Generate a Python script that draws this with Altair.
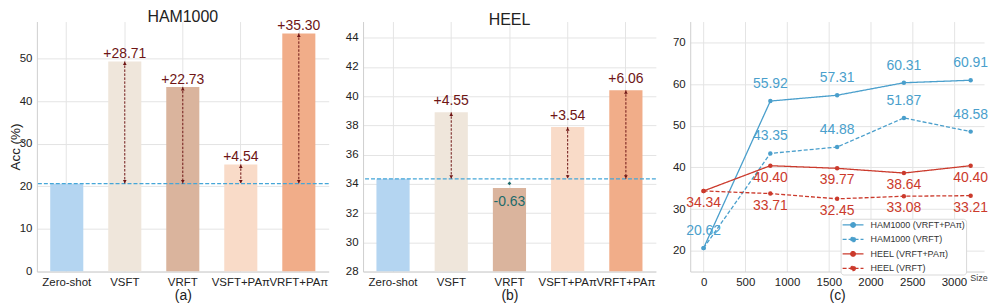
import altair as alt
import pandas as pd

# ---------------- data ----------------
methods = ["Zero-shot", "VSFT", "VRFT", "VSFT+PAπ", "VRFT+PAπ"]
bar_colors = ["#b4d5f1", "#efe6db", "#dab49d", "#f9dbc8", "#f1ad89"]
ham_acc = [20.62, 49.33, 43.35, 25.16, 55.92]
heel_acc = [34.34, 38.89, 33.71, 37.88, 40.40]

sizes = [0, 800, 1600, 2400, 3200]
ham_pa = [20.62, 55.92, 57.31, 60.31, 60.91]
ham_vrft = [20.62, 43.35, 44.88, 51.87, 48.58]
heel_pa = [34.34, 40.40, 39.77, 38.64, 40.40]
heel_vrft = [34.34, 33.71, 32.45, 33.08, 33.21]
series_names = ["HAM1000 (VRFT+PAπ)", "HAM1000 (VRFT)", "HEEL (VRFT+PAπ)", "HEEL (VRFT)"]

DARK_RED = "#6e1515"
TEAL = "#1d6b6b"
BASE_BLUE = "#45a6d8"
BLUE = "#4a9fcc"
RED = "#cb3a2c"
H = 251


def bar_panel(acc, title, ydomain, yticks, ytitle, xtitle, width, label_dy):
    base = acc[0]
    df = pd.DataFrame({"method": methods, "acc": acc})
    df["base"] = base
    df["gain"] = (df["acc"] - base).round(2)
    df["label"] = df["gain"].map(lambda g: f"{g:+.2f}")
    df["mid"] = (df["acc"] + df["base"]) / 2
    df["idx"] = range(len(df))

    xs = alt.Scale(domain=methods, paddingInner=0.43, paddingOuter=0.23)
    xax = alt.Axis(title=xtitle, labelAngle=0, bandPosition=0.5, labelOverlap=False,
                   labelPadding=5, titlePadding=1)
    ys = alt.Scale(domain=ydomain, nice=False, zero=False)
    yax = alt.Axis(values=yticks, title=ytitle, titlePadding=-3, titleFontSize=13.5)

    def X():
        return alt.X("method:N", sort=methods, scale=xs, axis=xax)

    def Y(f):
        return alt.Y(f"{f}:Q", scale=ys, axis=yax)

    bars = alt.Chart(df).mark_bar(clip=True).encode(
        x=X(), y=Y("acc"), y2=alt.datum(ydomain[0]),
        color=alt.Color("method:N", scale=alt.Scale(domain=methods, range=bar_colors), legend=None),
    )
    base_rule = alt.Chart(df[df["idx"] == 0]).mark_rule(
        color=BASE_BLUE, strokeDash=[4, 2], strokeWidth=1.2
    ).encode(y=Y("base"))

    pos = df[(df["idx"] > 0) & (df["gain"] > 0)]
    neg = df[(df["idx"] > 0) & (df["gain"] < 0)]

    arrows = alt.Chart(pos).mark_rule(color=DARK_RED, strokeDash=[2.5, 1.5], strokeWidth=1).encode(
        x=X(), y=Y("acc"), y2="base:Q"
    )
    head_up = alt.Chart(pos).mark_point(shape="triangle-up", filled=True, size=14,
                                         color=DARK_RED, opacity=1, yOffset=2).encode(x=X(), y=Y("acc"))
    head_dn = alt.Chart(pos).mark_point(shape="triangle-down", filled=True, size=14,
                                         color=DARK_RED, opacity=1, yOffset=-2).encode(x=X(), y=Y("base"))
    labels = alt.Chart(pos).mark_text(baseline="alphabetic", dy=label_dy, fontSize=14,
                                      color=DARK_RED).encode(x=X(), y=Y("acc"), text="label:N")
    layers = [bars, base_rule, arrows, head_up, head_dn, labels]
    if len(neg):
        nmark = alt.Chart(neg).mark_point(shape="diamond", filled=True, size=14, color=TEAL,
                                          opacity=1).encode(x=X(), y=Y("mid"))
        nlab = alt.Chart(neg).mark_text(baseline="middle", dy=14, fontSize=14, color=TEAL).encode(
            x=X(), y=Y("acc"), text="label:N")
        layers += [nmark, nlab]
    return alt.layer(*layers).properties(width=width, height=H, title=title)


panel_a = bar_panel(ham_acc, "HAM1000", [0, 58.7], [0, 10, 20, 30, 40, 50], "Acc (%)", "(a)", 293, -3)
panel_b = bar_panel(heel_acc, "HEEL", [28, 45.1], [28, 30, 32, 34, 36, 38, 40, 42, 44], None, "(b)", 294, -7)

# ---------------- line panel ----------------
rows = []
for name, vals, grp in zip(series_names, [ham_pa, ham_vrft, heel_pa, heel_vrft],
                           ["HAM", "HAM", "HEEL", "HEEL"]):
    for s, v in zip(sizes, vals):
        rows.append({"Size": s, "Acc": v, "Series": name, "grp": grp, "label": f"{v:.2f}"})
ldf = pd.DataFrame(rows)
ldf["show"] = ~((ldf["Series"].isin(["HAM1000 (VRFT)", "HEEL (VRFT)"])) & (ldf["Size"] == 0))

lx = alt.X("Size:Q", scale=alt.Scale(domain=[-160, 3360], nice=False, zero=False),
           axis=alt.Axis(values=[0, 500, 1000, 1500, 2000, 2500, 3000], format="d", title="(c)",
                         labelPadding=5, titlePadding=1))
ly = alt.Y("Acc:Q", scale=alt.Scale(domain=[15, 75], nice=False, zero=False),
           axis=alt.Axis(values=[20, 30, 40, 50, 60, 70], title=None))
SYM = "M-1,0H1M0.22,0A0.22,0.22,0,1,1,-0.22,0A0.22,0.22,0,1,1,0.22,0Z"
leg = alt.Legend(title=None, orient="none", legendX=151, legendY=198, symbolType=SYM,
                 symbolSize=440, symbolStrokeWidth=1.3, labelFontSize=9, labelColor="#333",
                 fillColor="white", strokeColor="#d9d9d9", cornerRadius=3, padding=1,
                 rowPadding=3.5, clipHeight=10.5, labelOffset=6)
lcolor = alt.Color("Series:N", scale=alt.Scale(domain=series_names, range=[BLUE, BLUE, RED, RED]),
                   legend=leg)
ldash = alt.StrokeDash("Series:N", scale=alt.Scale(domain=series_names,
                                                     range=[[1, 0], [4, 2], [1, 0], [4, 2]]),
                       legend=leg)

lines = alt.Chart(ldf).mark_line(strokeWidth=1.3).encode(x=lx, y=ly, color=lcolor, strokeDash=ldash)
pts = alt.Chart(ldf).mark_point(filled=True, size=20, opacity=1).encode(x=lx, y=ly, color=lcolor)
blue_lab = alt.Chart(ldf[(ldf["grp"] == "HAM") & ldf["show"]]).mark_text(
    fontSize=14, color=BLUE, dy=-17, baseline="middle").encode(x=lx, y=ly, text="label:N")
red_lab = alt.Chart(ldf[(ldf["grp"] == "HEEL") & ldf["show"]]).mark_text(
    fontSize=14, color=RED, dy=12, baseline="middle").encode(x=lx, y=ly, text="label:N")
size_lab = alt.Chart(pd.DataFrame({"t": ["Size"]})).mark_text(fontSize=9, color="#444").encode(
    x=alt.value(290), y=alt.value(258), text="t:N")

panel_c = alt.layer(lines, pts, blue_lab, red_lab, size_lab).properties(
    width=295, height=H)

chart = alt.hconcat(panel_a, panel_b, panel_c, spacing=34.5, bounds="flush").resolve_scale(
    color="independent", strokeDash="independent"
).properties(padding=0).configure(font="Liberation Sans").configure_view(stroke=None).configure_axis(
    grid=True, gridColor="#e4e4e4", domainColor="#cfcfcf", ticks=False, labelFontSize=11.5,
    labelColor="#222", titleFontSize=14, titleFontWeight="normal", titleColor="#222",
    labelPadding=5
).configure_title(fontSize=16, fontWeight="normal", color="#222", offset=-6)

chart.save("out.html", embed_options={"renderer": "svg", "actions": False})
